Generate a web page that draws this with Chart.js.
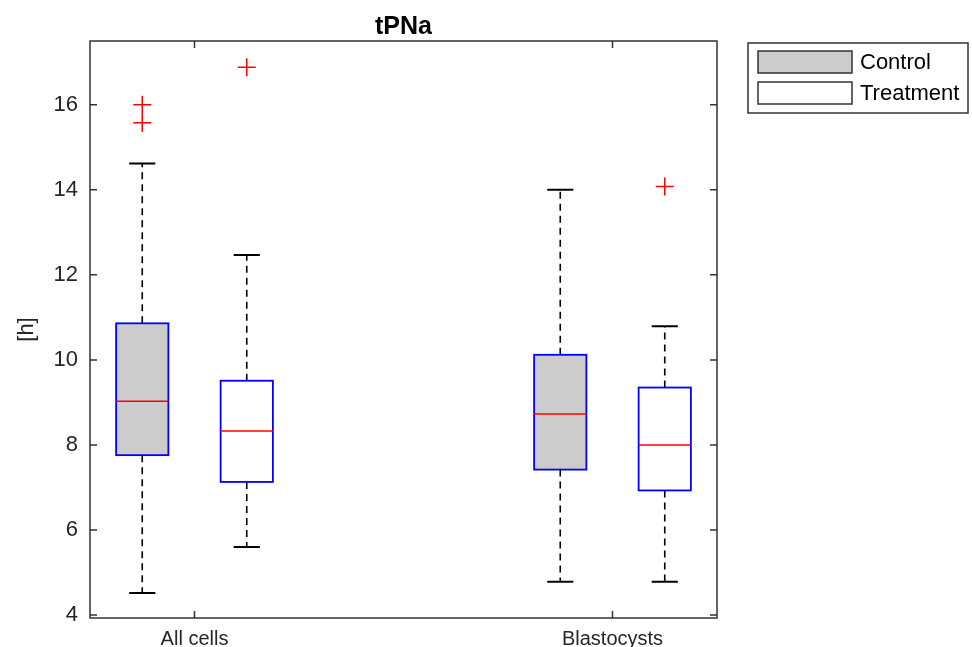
<!DOCTYPE html>
<html>
<head>
<meta charset="utf-8">
<script src="https://cdn.jsdelivr.net/npm/chart.js@4/dist/chart.umd.min.js"></script>
<style>
  html, body { margin: 0; padding: 0; background: #fff; }
  #wrap { width: 972px; height: 647px; position: relative; }
</style>
</head>
<body>
<div id="wrap"><canvas id="chart"></canvas></div>
<script>
// categories and series
const groups = ["All cells", "Blastocysts"]
const seriesNames = ["Control", "Treatment"]
const yTicks = [4, 6, 8, 10, 12, 14, 16]

// box statistics, one value per group
const controlLow = [4.52, 4.78]
const controlQ1 = [7.76, 7.42]
const controlMedian = [9.03, 8.73]
const controlQ3 = [10.86, 10.12]
const controlHigh = [14.62, 14.0]
const controlOutliers = [[15.58, 16.0], []]

const treatmentLow = [5.6, 4.78]
const treatmentQ1 = [7.13, 6.93]
const treatmentMedian = [8.33, 8.0]
const treatmentQ3 = [9.51, 9.35]
const treatmentHigh = [12.47, 10.79]
const treatmentOutliers = [[16.88], [14.08]]

const stats = [
  { low: controlLow, q1: controlQ1, med: controlMedian, q3: controlQ3, high: controlHigh, out: controlOutliers },
  { low: treatmentLow, q1: treatmentQ1, med: treatmentMedian, q3: treatmentQ3, high: treatmentHigh, out: treatmentOutliers },
]

const FONT = "'Liberation Sans', Arial, sans-serif"
const fills = ["#cccccc", "#ffffff"]
const boxWidth = 0.5
const capWidth = 0.25

// group i sits around 1.5 + 4*i, the two series at -0.5 / +0.5
const groupCenter = (i) => 1.5 + 4 * i
const boxPos = (i, s) => groupCenter(i) + (s - 0.5)

const outlierSets = seriesNames.map((name, s) => ({
  label: name,
  data: groups.flatMap((g, i) => stats[s].out[i].map((v) => ({ x: boxPos(i, s), y: v }))),
  pointStyle: "cross",
  pointRadius: 9,
  pointHoverRadius: 9,
  borderColor: "#ff0000",
  borderWidth: 1.5,
  showLine: false,
}))

const boxPlugin = {
  id: "boxes",
  beforeDatasetsDraw(chart) {
    const { ctx, scales: { x, y } } = chart
    ctx.save()
    stats.forEach((st, s) => {
      groups.forEach((g, i) => {
        const pos = boxPos(i, s)
        const xc = x.getPixelForValue(pos)
        const xl = x.getPixelForValue(pos - boxWidth / 2)
        const xr = x.getPixelForValue(pos + boxWidth / 2)
        const cl = x.getPixelForValue(pos - capWidth / 2)
        const cr = x.getPixelForValue(pos + capWidth / 2)
        const yLow = y.getPixelForValue(st.low[i])
        const yQ1 = y.getPixelForValue(st.q1[i])
        const yMed = y.getPixelForValue(st.med[i])
        const yQ3 = y.getPixelForValue(st.q3[i])
        const yHigh = y.getPixelForValue(st.high[i])

        // whiskers
        ctx.strokeStyle = "#000"
        ctx.lineWidth = 1.6
        ctx.setLineDash([7, 5])
        ctx.beginPath()
        ctx.moveTo(xc, yQ3); ctx.lineTo(xc, yHigh)
        ctx.moveTo(xc, yQ1); ctx.lineTo(xc, yLow)
        ctx.stroke()
        ctx.setLineDash([])
        ctx.lineWidth = 2
        ctx.beginPath()
        ctx.moveTo(cl, yHigh); ctx.lineTo(cr, yHigh)
        ctx.moveTo(cl, yLow); ctx.lineTo(cr, yLow)
        ctx.stroke()

        // box
        ctx.fillStyle = fills[s]
        ctx.fillRect(xl, yQ3, xr - xl, yQ1 - yQ3)
        ctx.strokeStyle = "#0000ff"
        ctx.lineWidth = 1.8
        ctx.strokeRect(xl, yQ3, xr - xl, yQ1 - yQ3)

        // median
        ctx.strokeStyle = "#ff0000"
        ctx.lineWidth = 1.5
        ctx.beginPath()
        ctx.moveTo(xl, yMed); ctx.lineTo(xr, yMed)
        ctx.stroke()
      })
    })
    ctx.restore()
  },
  afterDraw(chart) {
    const { ctx, chartArea: a, scales: { x, y } } = chart
    ctx.save()
    // axes frame with inward ticks
    ctx.strokeStyle = "#333"
    ctx.lineWidth = 1.5
    ctx.strokeRect(a.left, a.top, a.right - a.left, a.bottom - a.top)
    ctx.beginPath()
    y.ticks.forEach((t) => {
      const py = y.getPixelForValue(t.value)
      ctx.moveTo(a.left, py); ctx.lineTo(a.left + 7, py)
      ctx.moveTo(a.right, py); ctx.lineTo(a.right - 7, py)
    })
    x.ticks.forEach((t) => {
      const px = x.getPixelForValue(t.value)
      ctx.moveTo(px, a.bottom); ctx.lineTo(px, a.bottom - 7)
      ctx.moveTo(px, a.top); ctx.lineTo(px, a.top + 7)
    })
    ctx.stroke()

    // legend box
    const lx = a.right + 31, ly = a.top + 2
    ctx.fillStyle = "#fff"
    ctx.fillRect(lx, ly, 220, 70)
    ctx.strokeRect(lx, ly, 220, 70)
    ctx.font = "22px " + FONT
    ctx.textBaseline = "middle"
    seriesNames.forEach((name, s) => {
      const sy = ly + 8 + s * 31
      ctx.fillStyle = fills[s]
      ctx.fillRect(lx + 10, sy, 94, 22)
      ctx.strokeStyle = "#333"
      ctx.strokeRect(lx + 10, sy, 94, 22)
      ctx.fillStyle = "#000"
      ctx.fillText(name, lx + 112, sy + 12)
    })
    ctx.restore()
  },
}

new Chart(document.getElementById("chart").getContext("2d"), {
  type: "scatter",
  data: { datasets: outlierSets },
  options: {
    responsive: true,
    maintainAspectRatio: false,
    animation: false,
    events: [],
    layout: { padding: { left: 0, top: 0, right: 255, bottom: 0 } },
    plugins: {
      legend: { display: false },
      tooltip: { enabled: false },
      title: {
        display: true,
        text: "tPNa",
        fullSize: false,
        color: "#000",
        font: { family: FONT, size: 25, weight: "bold", lineHeight: 1.2 },
        padding: { top: 12, bottom: -1 },
      },
    },
    scales: {
      x: {
        type: "linear",
        min: 0.5,
        max: 6.5,
        grid: { display: false, drawTicks: false },
        border: { display: false },
        afterBuildTicks: (axis) => {
          axis.ticks = groups.map((g, i) => ({ value: groupCenter(i) }))
        },
        afterFit: (axis) => { axis.height = 29 },
        ticks: {
          autoSkip: false,
          maxRotation: 0,
          padding: 9,
          color: "#262626",
          font: { family: FONT, size: 20 },
          callback: (v, i) => groups[i],
        },
      },
      y: {
        min: 3.93,
        max: 17.5,
        grid: { display: false, drawTicks: false },
        border: { display: false },
        afterBuildTicks: (axis) => {
          axis.ticks = yTicks.map((v) => ({ value: v }))
        },
        afterFit: (axis) => { axis.width = 90 },
        ticks: {
          padding: 12,
          color: "#262626",
          font: { family: FONT, size: 22 },
        },
        title: {
          display: true,
          text: "[h]",
          color: "#262626",
          font: { family: FONT, size: 22, lineHeight: 1.2 },
          padding: { top: 14, bottom: 0 },
        },
      },
    },
  },
  plugins: [boxPlugin],
})
</script>
</body>
</html>
